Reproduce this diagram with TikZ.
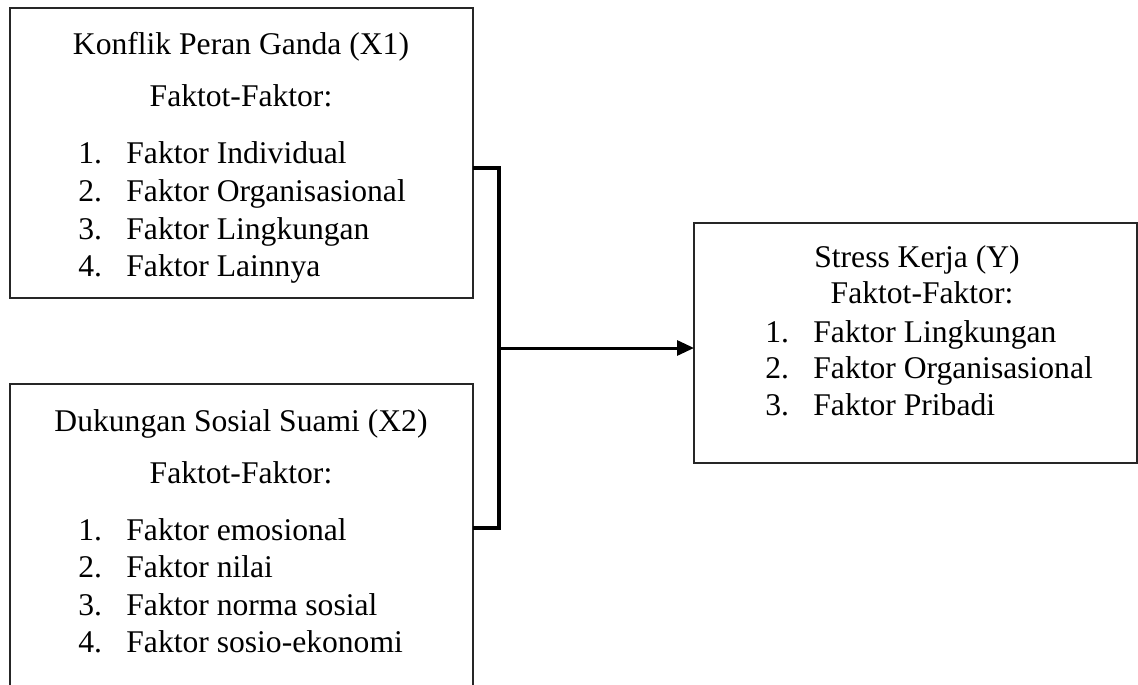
\documentclass[tikz,border=0pt]{standalone}
\usepackage{fontspec}
\setmainfont{Liberation Serif}
\usetikzlibrary{arrows.meta}
\begin{document}
\begin{tikzpicture}[x=0.5pt,y=-0.5pt,
  box/.style={draw=black!85, line width=0.6pt, inner sep=0pt, outer sep=0pt, anchor=north west},
  txt/.style={inner sep=0pt, font=\fontsize{15.8}{19}\selectfont},
  ctxt/.style={txt, anchor=base},
  ltxt/.style={txt, anchor=base west},
  bracket/.style={line width=1.6pt, line join=miter},
  arr/.style={line width=1.5pt, -{Triangle[length=8.5pt,width=7.5pt]}}]
\useasboundingbox (0,0) rectangle (1138,684);
\clip (0,0) rectangle (1138,684);
% boxes
\node[box, minimum width=231.5pt, minimum height=145pt] (b1) at (10,8) {};
\node[box, minimum width=231.5pt, minimum height=160pt] (b2) at (10,384) {};
\node[box, minimum width=221.5pt, minimum height=120pt] (b3) at (694,223) {};
% box 1 text
\node[ctxt] (t1) at (241,55) {Konflik Peran Ganda (X1)};
\node[ctxt] (f1) at (241,107) {Faktot-Faktor:};
\node[ltxt] (n11) at (78,164) {1.};
\node[ltxt] (i11) at (126,164) {Faktor Individual};
\node[ltxt] (n12) at (78,201.5) {2.};
\node[ltxt] (i12) at (126,201.5) {Faktor Organisasional};
\node[ltxt] (n13) at (78,239) {3.};
\node[ltxt] (i13) at (126,239) {Faktor Lingkungan};
\node[ltxt] (n14) at (78,276) {4.};
\node[ltxt] (i14) at (126,276) {Faktor Lainnya};
% box 2 text
\node[ctxt] (t2) at (241,431) {Dukungan Sosial Suami (X2)};
\node[ctxt] (f2) at (241,483) {Faktot-Faktor:};
\node[ltxt] (n21) at (78,540) {1.};
\node[ltxt] (i21) at (126,540) {Faktor emosional};
\node[ltxt] (n22) at (78,577.5) {2.};
\node[ltxt] (i22) at (126,577.5) {Faktor nilai};
\node[ltxt] (n23) at (78,615) {3.};
\node[ltxt] (i23) at (126,615) {Faktor norma sosial};
\node[ltxt] (n24) at (78,652) {4.};
\node[ltxt] (i24) at (126,652) {Faktor sosio-ekonomi};
% box 3 text
\node[ctxt] (t3) at (917,267) {Stress Kerja (Y)};
\node[ctxt] (f3) at (922,303) {Faktot-Faktor:};
\node[ltxt] (n31) at (765,342) {1.};
\node[ltxt] (i31) at (813,342) {Faktor Lingkungan};
\node[ltxt] (n32) at (765,378) {2.};
\node[ltxt] (i32) at (813,378) {Faktor Organisasional};
\node[ltxt] (n33) at (765,415) {3.};
\node[ltxt] (i33) at (813,415) {Faktor Pribadi};
% bracket and arrow
\coordinate (bt) at (499,168);
\coordinate (bb) at (499,528);
\coordinate (bm) at (499,348);
\draw[bracket] (b1.east |- bt) -- (bt) -- (bb) -- (b2.east |- bb);
\draw[arr] (bm) -- (b3.west |- bm);
\end{tikzpicture}
\end{document}
